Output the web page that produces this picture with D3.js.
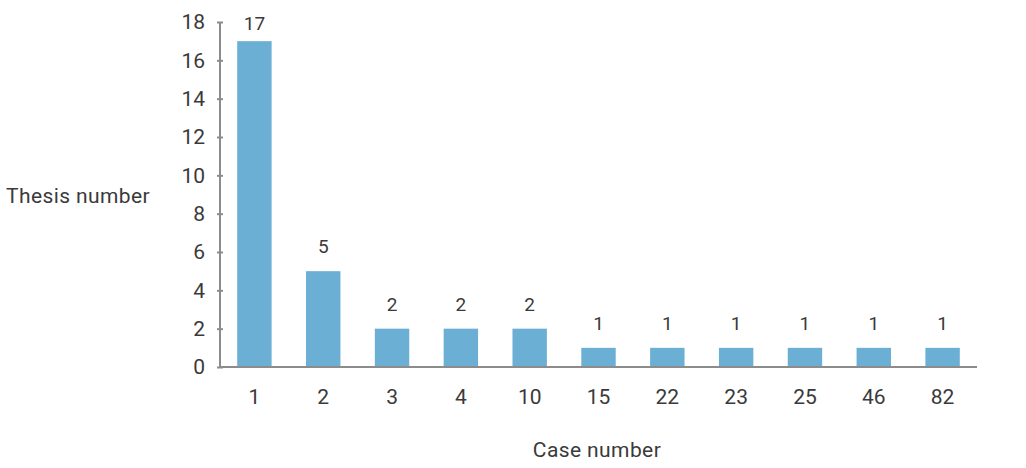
<!DOCTYPE html>
<html>
<head>
<meta charset="utf-8">
<script src="https://cdn.jsdelivr.net/npm/d3@7"></script>
<style>
  body { margin: 0; background: #fff; }
  text { font-family: Roboto, "DejaVu Sans", sans-serif; fill: #3a3a3a; }
</style>
</head>
<body>
<div id="chart"></div>
<script>
// Data
const cases = ["1", "2", "3", "4", "10", "15", "22", "23", "25", "46", "82"];
const theses = [17, 5, 2, 2, 2, 1, 1, 1, 1, 1, 1];
const yTicks = [0, 2, 4, 6, 8, 10, 12, 14, 16, 18];

const svgWidth = 1026, svgHeight = 468;
const x0 = 220, x1 = 977, yTop = 22, yBottom = 367;
const fontSize = '21px';

const svg = d3.select('#chart').append('svg')
  .attr('width', svgWidth)
  .attr('height', svgHeight);

const xScale = d3.scaleBand()
  .domain(cases)
  .range([x0, x1])
  .paddingInner(0.5)
  .paddingOuter(0.25);

const yScale = d3.scaleLinear()
  .domain([0, 18])
  .range([yBottom, yTop]);

// Bars
svg.selectAll('.bar')
  .data(cases)
  .enter().append('rect')
    .attr('class', 'bar')
    .attr('x', d => xScale(d))
    .attr('width', xScale.bandwidth())
    .attr('y', (d, i) => yScale(theses[i]))
    .attr('height', (d, i) => yScale(0) - yScale(theses[i]))
    .style('fill', '#6cafd4');

// Value labels (kept inside the top of the chart)
svg.selectAll('.value')
  .data(cases)
  .enter().append('text')
    .attr('class', 'value')
    .attr('x', d => xScale(d) + xScale.bandwidth() / 2)
    .attr('y', (d, i) => Math.max(yScale(theses[i]) - 18, 30))
    .attr('text-anchor', 'middle')
    .style('font-size', '19px')
    .text((d, i) => theses[i]);

// Y axis
const yAxis = svg.append('g')
  .attr('transform', 'translate(' + x0 + ',0)')
  .call(d3.axisLeft(yScale).tickValues(yTicks).tickSize(0).tickPadding(15));
yAxis.select('.domain').remove();
yAxis.selectAll('text').style('font-size', fontSize).style('fill', '#3a3a3a');
yAxis.append('line')
  .attr('y1', yTop).attr('y2', yBottom)
  .style('stroke', '#8c8c8c').style('stroke-width', 2);
yAxis.selectAll('.tick').append('line')
  .attr('x1', -3).attr('x2', 3)
  .style('stroke', '#8c8c8c').style('stroke-width', 2);

// X axis
const xAxis = svg.append('g')
  .attr('transform', 'translate(0,' + yBottom + ')')
  .call(d3.axisBottom(xScale).tickSize(0).tickPadding(22));
xAxis.select('.domain').remove();
xAxis.selectAll('text').style('font-size', fontSize).style('fill', '#3a3a3a');
xAxis.append('line')
  .attr('x1', x0 - 1).attr('x2', x1)
  .style('stroke', '#8c8c8c').style('stroke-width', 2);

// Axis titles
svg.append('text')
  .attr('x', 6)
  .attr('y', 203)
  .style('font-size', fontSize)
  .style('letter-spacing', '0.4px')
  .text('Thesis number');

svg.append('text')
  .attr('x', 597)
  .attr('y', 457)
  .attr('text-anchor', 'middle')
  .style('font-size', fontSize)
  .style('letter-spacing', '0.4px')
  .text('Case number');
</script>
</body>
</html>
